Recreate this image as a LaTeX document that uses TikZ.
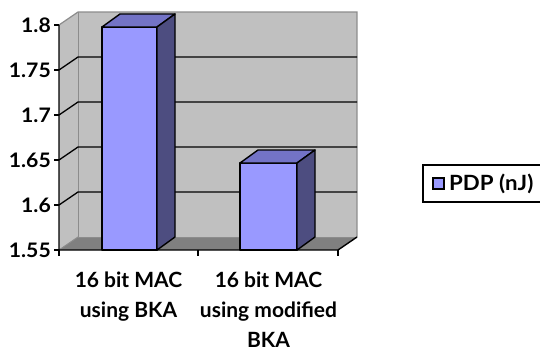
\documentclass[tikz,border=0pt]{standalone}
\usepackage{fontspec}
\usepackage{graphicx}
\setmainfont{Lato}
\newcommand{\widetext}[1]{\scalebox{1.06}[1]{#1}}
\definecolor{wallgray}{HTML}{C0C0C0}
\definecolor{floorgray}{HTML}{808080}
\definecolor{edgegray}{HTML}{8C8C8C}
\definecolor{barfront}{HTML}{9999FF}
\definecolor{bartop}{HTML}{7373C6}
\definecolor{barside}{HTML}{4D4D80}
\tikzset{
  grid line/.style={draw=black, line width=1.3pt},
  bar edge/.style={draw=black, line width=1.4pt, line join=round},
  ticklabel/.style={anchor=east, font=\fontsize{20}{24}\selectfont\bfseries, inner sep=0pt},
  catlabel/.style={anchor=north, font=\fontsize{21}{30}\selectfont\bfseries, inner sep=0pt},
}
\begin{document}
\begin{tikzpicture}[x=1pt, y=-1pt]
\useasboundingbox (0,0) rectangle (540,353);
% walls
\fill[wallgray] (78,12) rectangle (357,237);
\fill[wallgray] (59,25) -- (78,12) -- (78,237) -- (59,250) -- cycle;
\fill[floorgray] (59,250) -- (78,237) -- (357,237) -- (338,250) -- cycle;
\draw[edgegray, line width=1.2pt] (59,25) -- (78,12) -- (357,12) -- (357,237);
\draw[edgegray, line width=1pt] (78,12) -- (78,237) -- (357,237);
\draw[edgegray, line width=1pt] (59,250) -- (78,237);
% gridlines
\foreach \yy in {70,115,160,205} {
  \draw[grid line] (59,\yy) -- (78,\yy-13) -- (357,\yy-13);
}
% axes
\coordinate (o) at (59,250);
\coordinate (atop) at (59,25);
\coordinate (xend) at (338,250);
\coordinate (fback) at (357,237);
\draw[black, line width=1.4pt] (atop) -- (o) -- (xend) -- (fback);
\foreach \yy/\lab in {25/1.8,70/1.75,115/1.7,160/1.65,205/1.6,250/1.55} {
  \draw[black, line width=1.4pt] (54,\yy) -- (59,\yy);
  \node[ticklabel] (t\lab) at (51,\yy) {\widetext{\lab}};
}
\foreach \xx in {59,198,338} {
  \draw[black, line width=1.4pt] (\xx,250) -- (\xx,256);
}
% bar 1
\filldraw[fill=barfront, bar edge] (102,250) rectangle (157,27);
\filldraw[fill=bartop, bar edge] (102,27) -- (120,14) -- (175,14) -- (157,27) -- cycle;
\filldraw[fill=barside, bar edge] (157,27) -- (175,14) -- (175,237) -- (157,250) -- cycle;
% bar 2
\filldraw[fill=barfront, bar edge] (240,250) rectangle (297,163);
\filldraw[fill=bartop, bar edge] (240,163) -- (258,150) -- (315,150) -- (297,163) -- cycle;
\filldraw[fill=barside, bar edge] (297,163) -- (315,150) -- (315,237) -- (297,250) -- cycle;
% category labels
\node[catlabel] (c1) at (128.5,266) {\begin{tabular}{@{}c@{}}16 bit MAC\\using BKA\end{tabular}};
\node[catlabel] (c2) at (268.5,266) {\begin{tabular}{@{}c@{}}16 bit MAC\\using modified\\BKA\end{tabular}};
% legend
\draw[black, line width=1.4pt, fill=white] (423,165) rectangle (545,202);
\filldraw[fill=barfront, draw=black, line width=1.2pt] (433,178) rectangle (444,189);
\node[anchor=west, inner sep=0pt, font=\fontsize{21}{24}\selectfont\bfseries] (leg) at (449,184) {\widetext{PDP (nJ)}};
\end{tikzpicture}
\end{document}
